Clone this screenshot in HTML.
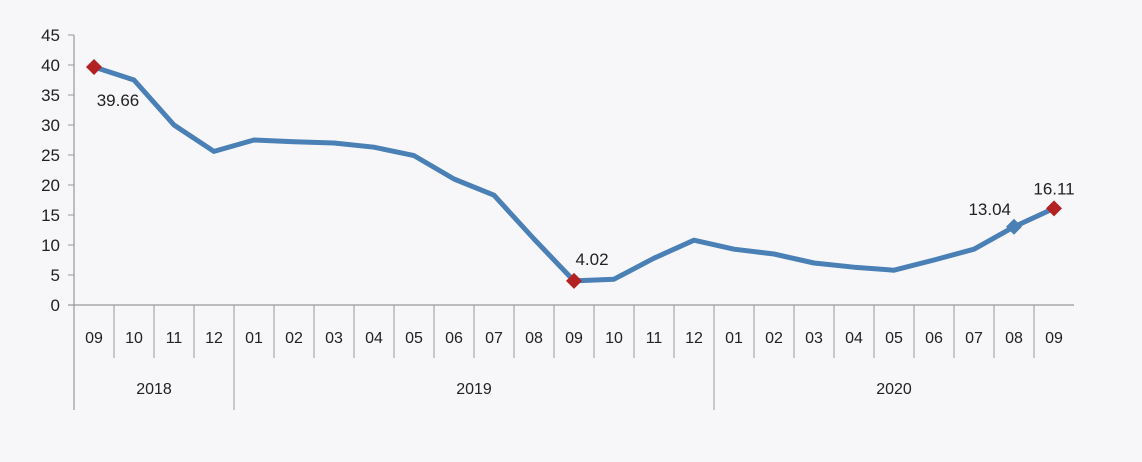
<!DOCTYPE html>
<html><head><meta charset="utf-8"><style>
body{margin:0;background:#f7f7f9;}
svg{display:block;font-family:"Liberation Sans",sans-serif;}
</style></head><body>
<svg id="chart" width="1142" height="462" viewBox="0 0 1142 462"></svg>
<script>
const months=["09","10","11","12","01","02","03","04","05","06","07","08","09","10","11","12","01","02","03","04","05","06","07","08","09"];
const years=["2018","2019","2020"];
const yearSpans=[4,12,9];
const values=[39.66,37.5,30,25.6,27.5,27.2,27.0,26.3,24.9,21,18.3,11,4.02,4.3,7.8,10.8,9.3,8.5,7.0,6.3,5.8,7.5,9.3,13.04,16.11];
const yTicks=[0,5,10,15,20,25,30,35,40,45];
const labelled=[0,12,23,24];
const NS="http://www.w3.org/2000/svg";
const svg=document.getElementById('chart');
const x0=74,cw=40,y0=305,ppu=6;
const xc=i=>x0+cw*i+cw/2, xb=i=>x0+cw*i, y=v=>y0-v*ppu;
function mk(t,a,txt){const e=document.createElementNS(NS,t);for(const k in a)e.setAttribute(k,a[k]);if(txt!==undefined)e.textContent=txt;svg.appendChild(e);return e;}
let e=mk('line',{x1:x0,y1:y(45),x2:x0,y2:410,stroke:'#999','stroke-width':1.2});

e=mk('line',{x1:x0-6,y1:y0,x2:xb(months.length),y2:y0,stroke:'#999','stroke-width':1.2});

yTicks.forEach(t=>{
 e=mk('line',{x1:x0-6,y1:y(t),x2:x0,y2:y(t),stroke:'#999'});
 
 e=mk('text',{x:x0-14,y:y(t)+6,'text-anchor':'end','font-size':17,fill:'#222'},t);
 
});
months.forEach((m,i)=>{
 if(i>0){e=mk('line',{x1:xb(i),y1:y0,x2:xb(i),y2:358,stroke:'#999'});
 }
 e=mk('text',{x:xc(i),y:343,'text-anchor':'middle','font-size':16,fill:'#222'},m);
 
});
let s=0;
years.forEach((yr,k)=>{
 if(s>0){e=mk('line',{x1:xb(s),y1:y0,x2:xb(s),y2:410,stroke:'#999'});
 }
 e=mk('text',{x:(xb(s)+xb(s+yearSpans[k]))/2,y:394,'text-anchor':'middle','font-size':16,fill:'#222'},yr);
 
 s+=yearSpans[k];
});
e=mk('polyline',{points:values.map((v,i)=>xc(i)+','+y(v)).join(' '),fill:'none',stroke:'#4a80b5','stroke-width':5,'stroke-linejoin':'round'});

labelled.forEach(i=>{
 const cx=xc(i),cy=y(values[i]),r=8;
 e=mk('polygon',{points:`${cx},${cy-r} ${cx+r},${cy} ${cx},${cy+r} ${cx-r},${cy}`,fill:i===23?'#4a80b5':'#b22222'});
 
 let lx=cx,ly=cy-14,anc='middle';
 if(i===0){lx=cx+24;ly=cy+39;}
 if(i===12){lx=cx+18;ly=cy-16;}
 if(i===23){lx=cx-3;ly=cy-12;anc='end';}
 e=mk('text',{x:lx,y:ly,'text-anchor':anc,'font-size':17,fill:'#222'},values[i].toFixed(2));
 
});
</script>
</body></html>
